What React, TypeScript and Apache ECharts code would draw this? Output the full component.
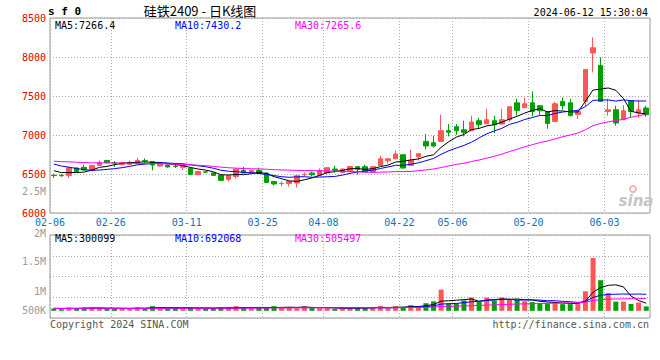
import React, { useEffect, useRef } from 'react';
import * as echarts from 'echarts';

// ---------- data ----------
const dates = [
  '02-07','02-08','02-19','02-20','02-21','02-22','02-23','02-26','02-27','02-28',
  '02-29','03-01','03-04','03-05','03-06','03-07','03-08','03-11','03-12','03-13',
  '03-14','03-15','03-18','03-19','03-20','03-21','03-22','03-25','03-26','03-27',
  '03-28','03-29','04-01','04-02','04-03','04-08','04-09','04-10','04-11','04-12',
  '04-15','04-16','04-17','04-18','04-19','04-22','04-23','04-24','04-25','04-26',
  '04-29','04-30','05-06','05-07','05-08','05-09','05-10','05-13','05-14','05-15',
  '05-16','05-17','05-20','05-21','05-22','05-23','05-24','05-27','05-28','05-29',
  '05-30','05-31','06-03','06-04','06-05','06-06','06-07','06-11','06-12'
];
const previousDate = '02-06';
const labelDates = ['02-06','02-26','03-11','03-25','04-08','04-22','05-06','05-20','06-03'];

const opens = [
  6485,6482,6482,6577,6585,6546,6610,6674,6645,6619,
  6623,6632,6672,6658,6602,6615,6600,6585,6572,6491,
  6528,6513,6482,6431,6469,6546,6516,6546,6513,6405,
  6377,6379,6385,6490,6513,6482,6513,6564,6520,6530,
  6594,6594,6526,6610,6670,6695,6747,6610,6722,6918,
  6901,6918,7055,7106,7068,7055,7183,7145,7183,7141,
  7196,7413,7350,7413,7375,7298,7174,7430,7413,7264,
  7431,8051,7892,7302,7323,7196,7439,7281,7345
];
const closes = [
  6480,6478,6581,6533,6551,6610,6649,6645,6640,6645,
  6649,6674,6668,6615,6632,6590,6595,6606,6495,6533,
  6524,6482,6418,6478,6564,6513,6546,6508,6392,6372,
  6380,6405,6478,6495,6490,6546,6581,6548,6564,6596,
  6560,6526,6594,6695,6695,6756,6577,6678,6760,6859,
  6859,7055,7035,7055,7033,7167,7132,7196,7132,7196,
  7362,7315,7400,7302,7311,7149,7400,7375,7247,7302,
  7840,8118,7431,7323,7154,7311,7302,7323,7260
];
const lows = [
  6450,6465,6449,6525,6545,6540,6605,6640,6590,6610,
  6615,6625,6636,6546,6595,6580,6577,6551,6490,6485,
  6515,6475,6415,6405,6444,6508,6510,6500,6385,6354,
  6341,6341,6328,6470,6470,6478,6508,6513,6515,6525,
  6491,6520,6520,6605,6636,6690,6570,6605,6670,6815,
  6841,6910,6982,7004,6982,7050,7077,7140,7025,7135,
  7170,7251,7345,7238,7260,7080,7170,7323,7240,7205,
  7370,7802,7425,7247,7119,7190,7218,7218,7234
];
const highs = [
  6505,6500,6585,6585,6619,6615,6674,6680,6665,6650,
  6674,6709,6700,6662,6640,6620,6640,6610,6580,6540,
  6535,6520,6485,6480,6570,6590,6555,6581,6520,6410,
  6405,6410,6482,6520,6530,6572,6585,6606,6570,6606,
  6600,6619,6600,6735,6700,6799,6750,6812,6770,7013,
  6991,7260,7141,7141,7183,7248,7218,7336,7248,7336,
  7370,7465,7477,7559,7380,7305,7426,7482,7462,7310,
  7845,8251,7995,7462,7375,7384,7445,7452,7375
];
const volumes = [
  100000,70000,140000,100000,140000,140000,100000,90000,90000,110000,
  100000,140000,90000,200000,140000,100000,130000,90000,150000,110000,
  90000,100000,140000,140000,200000,140000,100000,150000,140000,200000,
  140000,140000,110000,200000,140000,110000,110000,80000,110000,150000,
  150000,110000,150000,200000,110000,200000,150000,250000,200000,330000,
  410000,920000,320000,320000,450000,580000,380000,580000,450000,580000,
  480000,480000,420000,380000,320000,320000,380000,290000,290000,290000,
  850000,2300000,1330000,770000,400000,400000,300000,360000,190000
];
// closes / volumes before the visible window (only feed the moving averages)
const priorCloses = [
  6650,6660,6680,6700,6690,6670,6660,6680,6700,6710,
  6690,6680,6670,6690,6700,6680,6670,6690,6700,6680,
  6740,6720,6710,6700,6700,6600,6570,6540,6520
];
const priorVolumes = [
  110000,100000,120000,90000,110000,100000,120000,100000,90000,110000,
  100000,120000,110000,90000,100000,110000,120000,100000,90000,110000,
  100000,120000,110000,100000,90000,110000,100000,120000,100000
];

const priceTicks = [6000, 6500, 7000, 7500, 8000, 8500];
const volumeAxisLabels = ['2.5M', '2M', '1.5M', '1M', '500K'];
const priceLegend = ['MA5:7266.4', 'MA10:7430.2', 'MA30:7265.6'];
const volumeLegend = ['MA5:300099', 'MA10:692068', 'MA30:505497'];
const maPeriods = [5, 10, 30];

// ---------- helpers ----------
function movingAverage(all: number[], n: number, offset: number) {
  const out: number[] = [];
  for (let i = offset; i < all.length; i++) {
    let s = 0;
    for (let k = i - n + 1; k <= i; k++) s += all[k];
    out.push(+(s / n).toFixed(1));
  }
  return out;
}

const MONO = '"DejaVu Sans Mono", "Liberation Mono", monospace';
const UP = '#ff5757';
const DOWN = '#00a000';
const MA_COLORS = ['#000000', '#0000ff', '#ff00ff'];
const GRID_LINE = { color: '#aaaaaa', type: [1, 2] as any, width: 1 };
const volLabelY = [191, 233, 261, 291, 310];
const legendX = [55, 175, 295];

export default function App() {
  const ref = useRef<HTMLDivElement>(null);

  useEffect(() => {
    if (!ref.current) return;
    const chart = echarts.init(ref.current, undefined, { renderer: 'svg' });

    const allCloses = priorCloses.concat(closes);
    const allVolumes = priorVolumes.concat(volumes);
    const priceMAs = maPeriods.map((n) => movingAverage(allCloses, n, priorCloses.length));
    const volMAs = maPeriods.map((n) => movingAverage(allVolumes, n, priorVolumes.length));
    const axisDates = [previousDate].concat(dates);
    const isLabelDate = (_i: number, v: string) => labelDates.indexOf(v) >= 0;

    const txt = (text: string, x: number, y: number, font: string, fill: string, align: string, z = 10) => ({
      type: 'text', x, y, z,
      style: { text, font, fill, align, verticalAlign: 'middle', textAlign: align, textVerticalAlign: 'middle' },
    });

    const graphic: any[] = [
      txt('s f 0', 48, 11, `bold 11px ${MONO}`, '#000', 'left'),
      txt('硅铁2409 - 日K线图', 200, 10, '13px "Noto Sans CJK SC"', '#000', 'center'),
      txt('2024-06-12 15:30:04', 648, 12, `10px ${MONO}`, '#000', 'right'),
      txt('Copyright 2024 SINA.COM', 50, 324, `10px ${MONO}`, '#555', 'left'),
      txt('http://finance.sina.com.cn', 649, 324, `10px ${MONO}`, '#555', 'right'),
      { type: 'ring', shape: { cx: 633, cy: 189, r: 4, r0: 2 }, style: { fill: '#f0b4b4' }, z: 1 },
      txt('sina', 636, 201, 'italic bold 15px "DejaVu Sans"', '#c4c4c4', 'center', 1),
    ];
    priceLegend.forEach((t, i) => graphic.push(txt(t, legendX[i], 25, `10px ${MONO}`, MA_COLORS[i], 'left')));
    volumeLegend.forEach((t, i) => graphic.push(txt(t, legendX[i], 238, `10px ${MONO}`, MA_COLORS[i], 'left')));
    volumeAxisLabels.forEach((t, i) => graphic.push(txt(t, 46, volLabelY[i], `10px ${MONO}`, '#999', 'right')));

    const lineSeries = (data: number[], color: string, xi: number, yi: number) => ({
      type: 'line', data, xAxisIndex: xi, yAxisIndex: yi,
      symbol: 'none', showSymbol: false, silent: true,
      lineStyle: { color, width: 1 }, z: 5,
    });

    const option: any = {
      animation: false,
      backgroundColor: '#ffffff',
      grid: [
        { left: 50, top: 18, width: 600, height: 195, show: true, borderColor: '#999', borderWidth: 1, backgroundColor: 'transparent' },
        { left: 50, top: 235, width: 600, height: 83, show: true, borderColor: '#999', borderWidth: 1, backgroundColor: 'transparent' },
      ],
      xAxis: [
        { gridIndex: 0, type: 'category', data: dates, boundaryGap: true, show: false },
        {
          gridIndex: 0, type: 'category', data: axisDates, boundaryGap: false, position: 'bottom',
          axisLine: { show: false }, axisTick: { show: false },
          axisLabel: { interval: isLabelDate, color: '#0b72c2', fontSize: 10, fontFamily: MONO, margin: 4.5 },
          splitLine: { show: true, interval: isLabelDate, lineStyle: GRID_LINE },
        },
        { gridIndex: 1, type: 'category', data: dates, boundaryGap: true, show: false },
        {
          gridIndex: 1, type: 'category', data: axisDates, boundaryGap: false, position: 'bottom',
          axisLine: { show: false }, axisTick: { show: false }, axisLabel: { show: false },
          splitLine: { show: true, interval: isLabelDate, lineStyle: GRID_LINE },
        },
      ],
      yAxis: [
        {
          gridIndex: 0, type: 'value', min: priceTicks[0], max: priceTicks[priceTicks.length - 1],
          interval: priceTicks[1] - priceTicks[0],
          axisLine: { show: false }, axisTick: { show: false },
          axisLabel: {
            color: '#dd0000', fontSize: 10, fontFamily: MONO, margin: 4, padding: [0, 0, 5, 0],
            formatter: (v: number) => String(v),
          },
          splitLine: { show: true, lineStyle: GRID_LINE },
        },
        { gridIndex: 1, type: 'value', min: -313000, max: 3297000, show: false },
        {
          gridIndex: 1, type: 'value', min: 0, max: 4, interval: 1, position: 'left',
          axisLine: { show: false }, axisTick: { show: false }, axisLabel: { show: false },
          splitLine: { show: true, lineStyle: GRID_LINE },
        },
      ],
      graphic,
      series: [
        {
          type: 'candlestick', xAxisIndex: 0, yAxisIndex: 0, barWidth: 5, silent: true,
          data: dates.map((_, i) => [opens[i], closes[i], lows[i], highs[i]]),
          itemStyle: { color: UP, color0: DOWN, borderColor: UP, borderColor0: DOWN, borderWidth: 1 },
        },
        ...priceMAs.map((d, i) => lineSeries(d, MA_COLORS[i], 0, 0)),
        {
          type: 'bar', xAxisIndex: 2, yAxisIndex: 1, barWidth: 5, silent: true,
          data: volumes.map((v, i) => ({ value: v, itemStyle: { color: closes[i] >= opens[i] ? UP : DOWN } })),
        },
        ...volMAs.map((d, i) => lineSeries(d, MA_COLORS[i], 2, 1)),
      ],
    };
    chart.setOption(option);
    return () => chart.dispose();
  }, []);

  return (
    <div
      ref={ref}
      style={{ position: 'fixed', left: 0, top: 0, width: 660, height: 360, background: '#fff' }}
    />
  );
}
